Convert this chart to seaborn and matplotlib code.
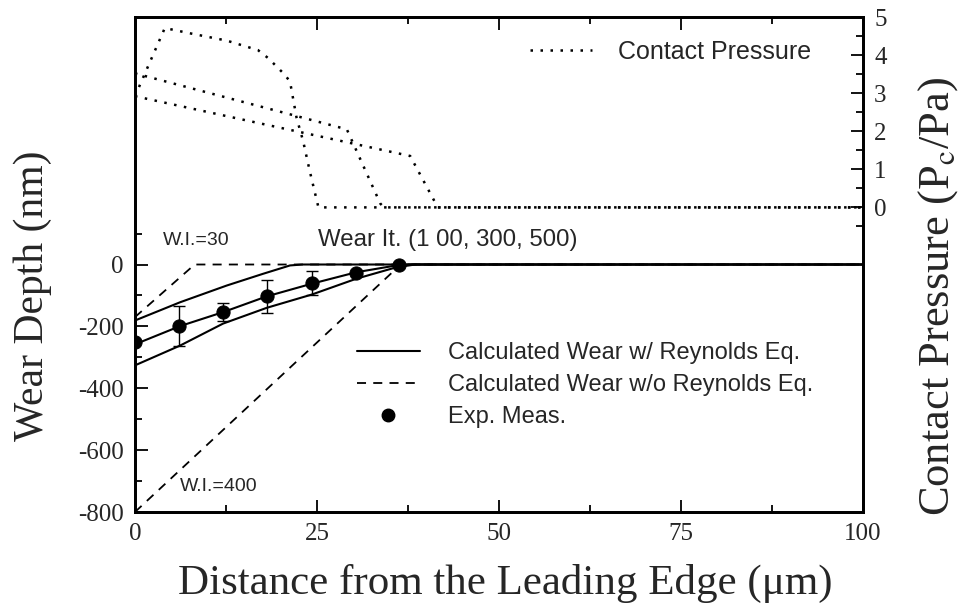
import matplotlib
matplotlib.use("Agg")
import matplotlib.pyplot as plt
import seaborn as sns
import pandas as pd
from matplotlib.lines import Line2D
from matplotlib.ticker import FixedLocator, NullFormatter

# ---------------- data ----------------
# wear depth with Reynolds eq. (three wear iterations)
rey_x1 = [0, 6.2, 12.6, 17.6, 21.3, 23.0, 100]
rey_y1 = [-181, -122, -68, -30, -3, 0, 0]
rey_x2 = [0, 6.2, 12.1, 18.1, 24.3, 30.4, 35.9, 37.5, 100]
rey_y2 = [-258, -199, -154, -103, -62, -25, -3, 0, 0]
rey_x3 = [0, 6.2, 12.1, 18.1, 24.3, 30.4, 35.9, 38.5, 100]
rey_y3 = [-326, -262, -191, -140, -97, -46, -9, 0, 0]
# wear depth without Reynolds eq.
norey_x1 = [0, 8.2, 100]
norey_y1 = [-170, 0, 0]
norey_x2 = [0, 36.5, 100]
norey_y2 = [-800, 0, 0]
# experimental measurements
exp_x = [0, 6.1, 12.1, 18.2, 24.3, 30.3, 36.3]
exp_y = [-250, -200, -154, -103, -59, -27, -1]
exp_err = [0, 65, 28, 54, 39, 0, 0]
# contact pressure (three wear iterations)
pc_x1 = [0, 4.1, 7.6, 12.6, 16.9, 18.3, 20.6, 21.3, 22.2, 23.1, 24.0, 25.2, 100]
pc_y1 = [2.92, 4.71, 4.57, 4.38, 4.13, 3.92, 3.48, 3.30, 2.35, 1.74, 0.96, 0, 0]
pc_x2 = [0, 29.1, 33.7, 34.2, 100]
pc_y2 = [3.52, 2.05, 0.10, 0, 0]
pc_x3 = [0, 37.8, 41.2, 41.6, 100]
pc_y3 = [2.92, 1.35, 0.14, 0, 0]

x_ticks = [0, 25, 50, 75, 100]
wear_ticks = [-800, -600, -400, -200, 0]
pc_ticks = [0, 1, 2, 3, 4, 5]

# ---------------- style ----------------
sns.set_style("ticks")
plt.rcParams['font.family'] = ['Liberation Serif', 'DejaVu Serif']
plt.rcParams['mathtext.fontset'] = 'stix'
SANS = ['Liberation Sans', 'DejaVu Sans']

fig = plt.figure(figsize=(9.62, 6.05), dpi=100)
ax = fig.add_axes([0.1403, 0.1537, 0.7568, 0.8182])
ax2 = ax.twinx()

DOT = (0, (1, 3))
DASH = (0, (5, 4))
lw = 1.5

for xs, ys in [(rey_x1, rey_y1), (rey_x2, rey_y2), (rey_x3, rey_y3)]:
    sns.lineplot(x=xs, y=ys, ax=ax, color='black', lw=lw, estimator=None, sort=False)
for xs, ys in [(norey_x1, norey_y1), (norey_x2, norey_y2)]:
    sns.lineplot(x=xs, y=ys, ax=ax, color='black', lw=1.3, ls=DASH, estimator=None, sort=False)

ax.errorbar(exp_x, exp_y, yerr=exp_err, fmt='none', ecolor='black', elinewidth=1.0,
            capsize=4, capthick=1.0)
sns.scatterplot(x=exp_x, y=exp_y, ax=ax, color='black', s=90, edgecolor='black', zorder=5)

for xs, ys in [(pc_x1, pc_y1), (pc_x2, pc_y2), (pc_x3, pc_y3)]:
    sns.lineplot(x=xs, y=ys, ax=ax2, color='black', lw=1.8, ls=DOT, estimator=None, sort=False)

ax.set_xlim(0, 100)
ax.set_ylim(-800, 800)
ax2.set_ylim(-8, 5)

# ticks
ax.xaxis.set_major_locator(FixedLocator(x_ticks))
ax.xaxis.set_minor_locator(FixedLocator([12.5, 37.5, 62.5, 87.5]))
ax.yaxis.set_major_locator(FixedLocator(wear_ticks))
ax.yaxis.set_minor_locator(FixedLocator([-700, -500, -300, -100, 100]))
ax2.yaxis.set_major_locator(FixedLocator(pc_ticks))
ax2.yaxis.set_minor_locator(FixedLocator([-0.5, 0.5, 1.5, 2.5, 3.5, 4.5]))
ax.set_xticklabels([str(t) for t in x_ticks])
ax.set_yticklabels([str(t) for t in wear_ticks])
ax2.set_yticklabels([str(t) for t in pc_ticks])

ax.tick_params(axis='x', which='both', direction='in', top=True, bottom=True, labelsize=18, pad=8)
ax.tick_params(axis='y', which='both', direction='in', left=True, right=False, labelsize=18, pad=8)
ax2.tick_params(axis='y', which='both', direction='in', right=True, left=False, labelsize=18, pad=8)
for a in (ax, ax2):
    a.tick_params(which='major', length=9, width=1.3, color='black')
    a.tick_params(which='minor', length=5, width=1.3, color='black')
    for s in a.spines.values():
        s.set_linewidth(2)
        s.set_color('black')

ax.set_xlabel('Distance from the Leading Edge (μm)', fontsize=31)
ax.xaxis.set_label_coords(0.508, -0.105)
ax.set_ylabel('Wear Depth (nm)', fontsize=30)
ax.yaxis.set_label_coords(-0.114, 0.437)
ax2.set_ylabel('Contact Pressure (P$_{\\rm c}$/Pa)', fontsize=32)
ax2.yaxis.set_label_coords(1.073, 0.436)

# annotations
ax.text(3.85, 78, 'W.I.=30', family=SANS, fontsize=14, va='center', ha='left')
ax.text(25.1, 80, 'Wear It. (1 00, 300, 500)', family=SANS, fontsize=17.3, va='center', ha='left')
ax.text(6.2, -719, 'W.I.=400', family=SANS, fontsize=14, va='center', ha='left')

handles = [Line2D([], [], color='black', lw=lw),
           Line2D([], [], color='black', lw=1.3, ls=DASH),
           Line2D([], [], color='black', marker='o', ls='none', markersize=9)]
labels = ['Calculated Wear w/ Reynolds Eq.', 'Calculated Wear w/o Reynolds Eq.', 'Exp. Meas.']
ax.legend(handles, labels, loc='upper left', bbox_to_anchor=(0.371, 0.434),
          bbox_transform=fig.transFigure, frameon=False, borderpad=0, borderaxespad=0,
          handlelength=2.67, handletextpad=1.19, labelspacing=0.42,
          prop={'family': SANS, 'size': 17})
ax2.legend([Line2D([], [], color='black', lw=1.8, ls=DOT)], ['Contact Pressure'],
           loc='upper left', bbox_to_anchor=(0.551, 0.934), bbox_transform=fig.transFigure,
           frameon=False, borderpad=0, borderaxespad=0, handlelength=2.48, handletextpad=1.04,
           prop={'family': SANS, 'size': 18})

fig.savefig('out.png', dpi=100)
